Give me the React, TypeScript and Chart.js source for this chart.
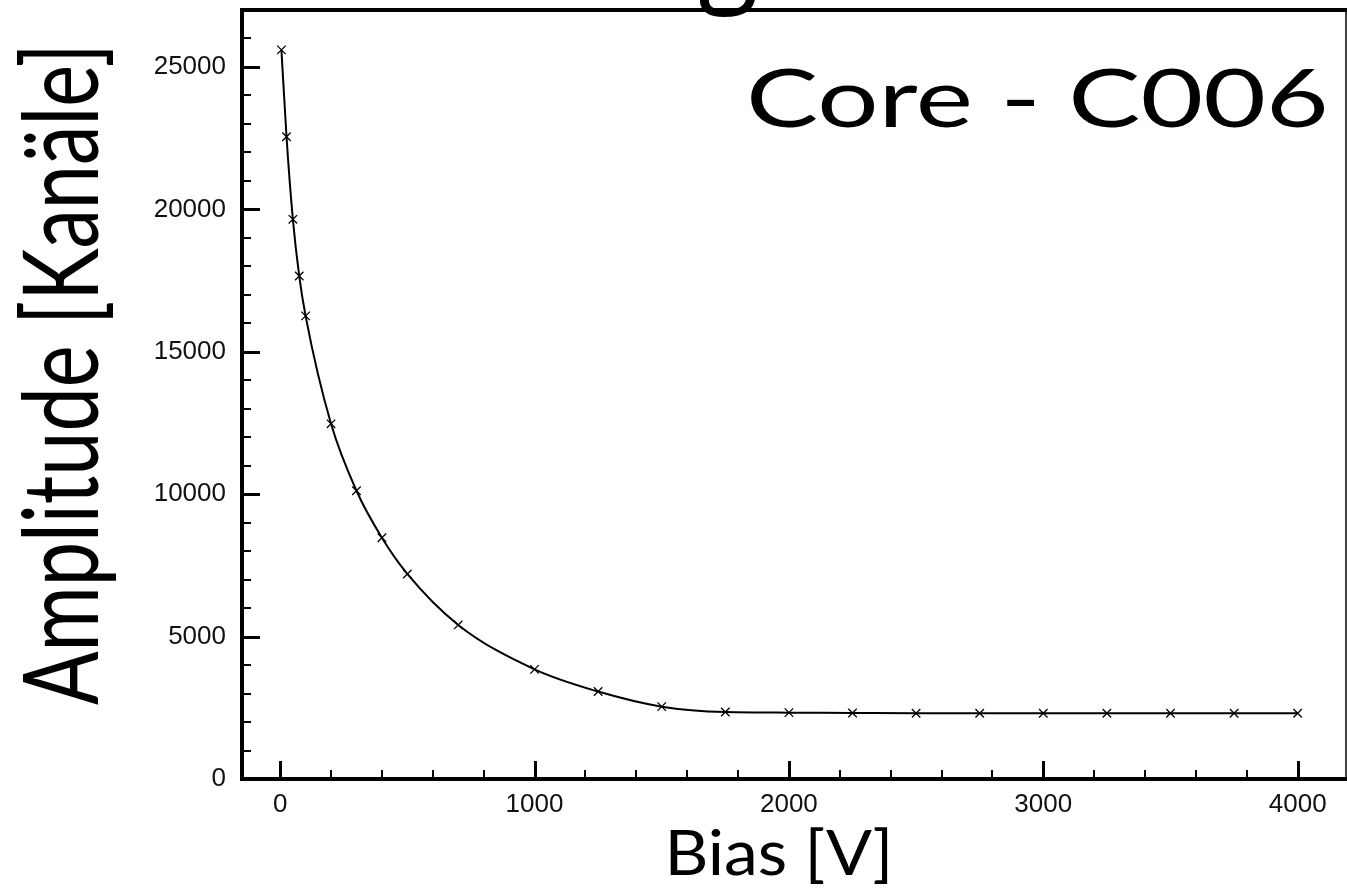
import React, { useEffect, useRef } from 'react';
import { Chart, registerables } from 'chart.js';

Chart.register(...registerables);

// ---- data ----
const biasV = [5, 25, 50, 75, 100, 200, 300, 400, 500, 700, 1000, 1250, 1500, 1750, 2000, 2250, 2500, 2750, 3000, 3250, 3500, 3750, 4000];
const amplitude = [25600, 22550, 19650, 17660, 16260, 12470, 10120, 8470, 7200, 5410, 3850, 3070, 2540, 2350, 2330, 2320, 2310, 2310, 2310, 2310, 2310, 2310, 2310];
const xTickLabels = [0, 1000, 2000, 3000, 4000];
const yTickLabels = [0, 5000, 10000, 15000, 20000, 25000];
const xTitle = 'Bias [V]';
const yTitle = 'Amplitude [Kanäle]';
const slideTitle = 'Core - C006';
const clippedHeading = 'g';

const TITLE_FONT = 'Lato, "Open Sans", sans-serif';
const TICK_FONT = '"Liberation Sans", Arial, Helvetica, sans-serif';

function drawFitted(
  ctx: CanvasRenderingContext2D,
  text: string,
  family: string,
  capHeight: number,
  width: number,
) {
  ctx.font = `100px ${family}`;
  const capRef = ctx.measureText('H').actualBoundingBoxAscent || 72;
  const size = (100 * capHeight) / capRef;
  ctx.font = `${size}px ${family}`;
  const m = ctx.measureText(text);
  const ink = m.actualBoundingBoxLeft + m.actualBoundingBoxRight;
  const sx = width / ink;
  ctx.scale(sx, 1);
  ctx.textAlign = 'left';
  ctx.textBaseline = 'alphabetic';
  ctx.fillText(text, m.actualBoundingBoxLeft, 0);
}

const zeroPad = (s: any) => {
  s.paddingTop = 0;
  s.paddingBottom = 0;
  s.paddingLeft = 0;
  s.paddingRight = 0;
};

const framePlugin = {
  id: 'frameAndTicks',
  afterDraw(chart: any) {
    const { ctx, chartArea, scales } = chart;
    const { left, top, right, bottom } = chartArea;
    const x = scales.x;
    const y = scales.y;
    ctx.save();
    ctx.strokeStyle = '#000';
    ctx.lineCap = 'butt';
    // top frame line
    ctx.lineWidth = 4;
    ctx.beginPath();
    ctx.moveTo(left - 2, top);
    ctx.lineTo(chart.width, top);
    ctx.stroke();
    // right frame line
    ctx.lineWidth = 1.5;
    ctx.beginPath();
    ctx.moveTo(right, top);
    ctx.lineTo(right, bottom);
    ctx.stroke();
    // inward ticks on x
    x.ticks.forEach((t: any) => {
      const v = t.value;
      if (v < 0 || v % 200 !== 0) return;
      const major = v % 1000 === 0;
      const px = Math.round(x.getPixelForValue(v)) + (major ? 0.5 : 0);
      ctx.lineWidth = major ? 3 : 2;
      ctx.beginPath();
      ctx.moveTo(px, bottom);
      ctx.lineTo(px, bottom - (major ? 18 : 9));
      ctx.stroke();
    });
    // inward ticks on y
    y.ticks.forEach((t: any) => {
      const v = t.value;
      if (v % 1000 !== 0 || v >= 27000) return;
      const major = v % 5000 === 0;
      const py = Math.round(y.getPixelForValue(v)) + (major ? 0.5 : 0);
      ctx.lineWidth = major ? 3 : 2;
      ctx.beginPath();
      ctx.moveTo(left, py);
      ctx.lineTo(left + (major ? 18 : 9), py);
      ctx.stroke();
    });
    ctx.restore();

    // titles
    ctx.save();
    ctx.fillStyle = '#000';
    ctx.save();
    ctx.translate(670, 875);
    drawFitted(ctx, xTitle, TITLE_FONT, 45, 218);
    ctx.restore();
    ctx.save();
    ctx.translate(750, 127);
    drawFitted(ctx, slideTitle, TITLE_FONT, 59, 575);
    ctx.restore();
    ctx.save();
    ctx.translate(98, 705);
    ctx.rotate(-Math.PI / 2);
    drawFitted(ctx, yTitle, TITLE_FONT, 76, 655);
    ctx.restore();
    ctx.save();
    ctx.font = '110px "Open Sans", sans-serif';
    const gm = ctx.measureText(clippedHeading);
    ctx.textAlign = 'center';
    ctx.textBaseline = 'alphabetic';
    ctx.fillText(clippedHeading, 728, 17 - gm.actualBoundingBoxDescent);
    ctx.restore();
    ctx.restore();
  },
};

export default function App() {
  const canvasRef = useRef<HTMLCanvasElement | null>(null);

  useEffect(() => {
    const canvas = canvasRef.current;
    if (!canvas) return;
    const chart = new Chart(canvas, {
      type: 'line',
      data: {
        datasets: [
          {
            data: biasV.map((v, i) => ({ x: v, y: amplitude[i] })),
            borderColor: '#000',
            borderWidth: 2,
            pointStyle: 'crossRot',
            pointRadius: 6,
            pointBorderColor: '#000',
            pointBorderWidth: 1.3,
            pointBackgroundColor: '#000',
            cubicInterpolationMode: 'monotone',
            fill: false,
          },
        ],
      },
      options: {
        animation: false,
        responsive: false,
        layout: { autoPadding: false, padding: { left: 0, top: 10, right: 1, bottom: 0 } },
        plugins: { legend: { display: false }, tooltip: { enabled: false }, title: { display: false } },
        scales: {
          x: {
            type: 'linear',
            min: -150,
            max: 4190,
            afterFit: (s: any) => {
              s.height = 113;
              zeroPad(s);
            },
            grid: { display: true, drawOnChartArea: false, drawTicks: false, color: 'rgba(0,0,0,0)' },
            border: { display: true, color: '#000', width: 4 },
            ticks: {
              stepSize: 200,
              includeBounds: false,
              autoSkip: false,
              maxRotation: 0,
              padding: 10,
              color: '#111',
              font: { family: TICK_FONT, size: 26 },
              callback: (v: any) => (xTickLabels.includes(Number(v)) ? String(v) : ''),
            },
          },
          y: {
            type: 'linear',
            min: 0,
            max: 27000,
            afterFit: (s: any) => {
              s.width = 242;
              zeroPad(s);
            },
            grid: { display: true, drawOnChartArea: false, drawTicks: false, color: 'rgba(0,0,0,0)' },
            border: { display: true, color: '#000', width: 4 },
            ticks: {
              stepSize: 1000,
              includeBounds: false,
              autoSkip: false,
              padding: 16,
              color: '#111',
              font: { family: TICK_FONT, size: 26 },
              callback: (v: any) => (yTickLabels.includes(Number(v)) ? String(v) : ''),
            },
          },
        },
      },
      plugins: [framePlugin],
    });
    return () => chart.destroy();
  }, []);

  return (
    <div style={{ position: 'absolute', left: 0, top: 0, width: 1347, height: 892, background: '#fff' }}>
      <canvas ref={canvasRef} width={1347} height={892} style={{ display: 'block' }} />
    </div>
  );
}
